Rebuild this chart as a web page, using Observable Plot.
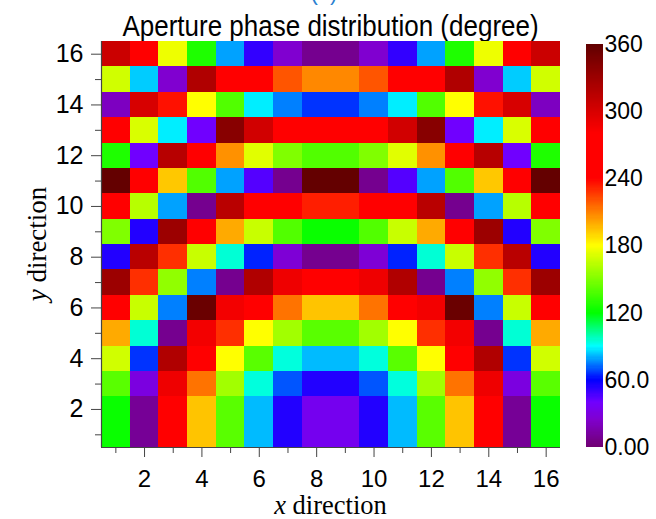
<!DOCTYPE html>
<html>
<head>
<meta charset="utf-8">
<script src="https://cdn.jsdelivr.net/npm/d3@7"></script>
<script src="https://cdn.jsdelivr.net/npm/@observablehq/plot@0.6"></script>
<style>
  html, body { margin: 0; padding: 0; background: #fff; }
  #wrap { position: relative; width: 656px; height: 519px; overflow: hidden; font-family: "Liberation Sans", Arial, sans-serif; }
  #wrap svg { position: absolute; top: 0; }
  .lbl { position: absolute; white-space: nowrap; color: #000; line-height: 1; }
</style>
</head>
<body>
<div id="wrap">
  <div class="lbl" style="left:-4px;width:656px;top:-18px;text-align:center;font-size:22px;color:#2a7fd0;">(a)</div>
  <div class="lbl" id="title" style="left:101px;width:459px;top:13px;text-align:center;font-size:26px;transform:scaleY(1.1);">Aperture phase distribution (degree)</div>
  <div class="lbl" style="left:101px;width:459px;top:492px;text-align:center;font-size:26.5px;font-family:'Liberation Serif',serif;"><i>x</i> direction</div>
  <div class="lbl" style="left:37px;top:244px;transform:translate(-50%,-50%) rotate(-90deg);font-size:27px;font-family:'Liberation Serif',serif;"><i>y</i> direction</div>
</div>
<script>
// grid coordinates
const xs = [1,2,3,4,5,6,7,8,9,10,11,12,13,14,15,16];
// phase values (degrees), each row listed from x=1 to x=16
const row16 = [306,258,176,127,79,51,25,8,8,25,51,79,127,176,258,306];
const row15 = [169,84,25,320,260,260,220,208,208,220,260,260,320,25,84,169];
const row14 = [21,300,236,180,139,88,75,66,66,75,88,139,180,236,300,21];
const row13 = [250,171,88,40,340,303,265,265,265,265,303,340,40,88,171,250];
const row12 = [127,40,316,255,206,173,150,139,139,150,173,206,255,316,40,127];
const row11 = [358,260,193,139,79,45,8,358,358,8,45,79,139,193,260,358];
const row10 = [255,163,79,8,315,265,265,233,233,265,265,315,8,79,163,255];
const row9  = [150,54,330,255,200,167,139,122,122,139,167,200,255,330,54,150];
const row8  = [54,315,229,167,95,64,27,8,8,27,64,95,167,229,315,54];
const row7  = [330,229,154,75,8,320,288,270,270,288,320,8,75,154,229,330];
const row6  = [255,167,75,355,286,265,213,194,194,213,265,286,355,75,167,255];
const row5  = [200,95,8,286,229,180,158,141,141,158,180,229,286,8,95,200];
const row4  = [169,66,320,255,180,141,94,82,82,94,141,180,255,320,66,169];
const row3  = [141,30,288,213,158,94,70,54,54,70,94,158,213,288,30,141];
const row2  = [122,10,255,194,141,82,54,35,35,54,82,141,194,255,10,122];
const row1  = [122,10,255,194,141,82,54,35,35,54,82,141,194,255,10,122];
const rows = [row1,row2,row3,row4,row5,row6,row7,row8,row9,row10,row11,row12,row13,row14,row15,row16];

const majorTicks = [2,4,6,8,10,12,14,16];
const minorTicks = [1,3,5,7,9,11,13,15];
const barTicks = [0,60,120,180,240,300,360];
const barLabels = ["0.00","60.0","120","180","240","300","360"];

// colormap
const cmapDomain = [0,25,40,60,90,120,180,210,240,280,360];
const cmapRange = ["#700070","#8000d0","#7000ff","#0000ff","#00ffff","#00ff00","#ffff00","#ff8000","#ff0000","#ff0000","#600000"];

const cells = [];
rows.forEach((r, j) => r.forEach((v, i) => cells.push({x: xs[i], y: j + 1, v})));

const colorOpts = {type: "linear", domain: cmapDomain, range: cmapRange, interpolate: "rgb"};

const main = Plot.plot({
  width: 656, height: 519,
  marginLeft: 101, marginRight: 96, marginTop: 41, marginBottom: 72,
  style: {fontFamily: "'Liberation Sans', Arial, sans-serif", fontSize: "24px", background: "transparent", color: "#000", overflow: "visible"},
  x: {domain: [0.5, 16.5]},
  y: {domain: [0.5, 16.5]},
  color: colorOpts,
  marks: [
    Plot.rect(cells, {x1: d => d.x - 0.5, x2: d => d.x + 0.5, y1: d => d.y - 0.5, y2: d => d.y + 0.5, fill: "v", shapeRendering: "crispEdges"}),
    Plot.axisX({ticks: majorTicks, tickSize: 10, tickPadding: 12, label: null, stroke: "#444", fill: "#000"}),
    Plot.axisX({ticks: minorTicks, tickSize: 6, text: null, label: null, stroke: "#444"}),
    Plot.axisY({ticks: majorTicks, tickSize: 10, tickPadding: 8, label: null, stroke: "#444", fill: "#000", fontSize: 25}),
    Plot.axisY({ticks: minorTicks, tickSize: 6, text: null, label: null, stroke: "#444"}),
    Plot.ruleX([0.5], {stroke: "#444", strokeWidth: 1.2}),
    Plot.ruleY([0.5], {stroke: "#444", strokeWidth: 1.2})
  ]
});
main.style.left = "0px";

const barSteps = d3.range(0, 360, 1);
const labelOf = new Map(barTicks.map((t, i) => [t, barLabels[i]]));
const bar = Plot.plot({
  width: 96, height: 519,
  marginLeft: 26, marginRight: 53, marginTop: 44, marginBottom: 72,
  style: {fontFamily: "'Liberation Sans', Arial, sans-serif", fontSize: "23px", background: "transparent", color: "#000", overflow: "visible"},
  x: {domain: [0, 1], axis: null},
  y: {domain: [0, 360]},
  color: colorOpts,
  marks: [
    Plot.rect(barSteps, {x1: 0, x2: 1, y1: d => d, y2: d => d + 1, fill: d => d + 0.5, shapeRendering: "crispEdges"}),
    Plot.axisY({anchor: "right", ticks: barTicks, tickFormat: d => labelOf.get(d), tickSize: 0, tickPadding: 1, label: null, fill: "#000"})
  ]
});
bar.style.left = "560px";

const wrap = document.getElementById("wrap");
wrap.appendChild(main);
wrap.appendChild(bar);
</script>
</body>
</html>
